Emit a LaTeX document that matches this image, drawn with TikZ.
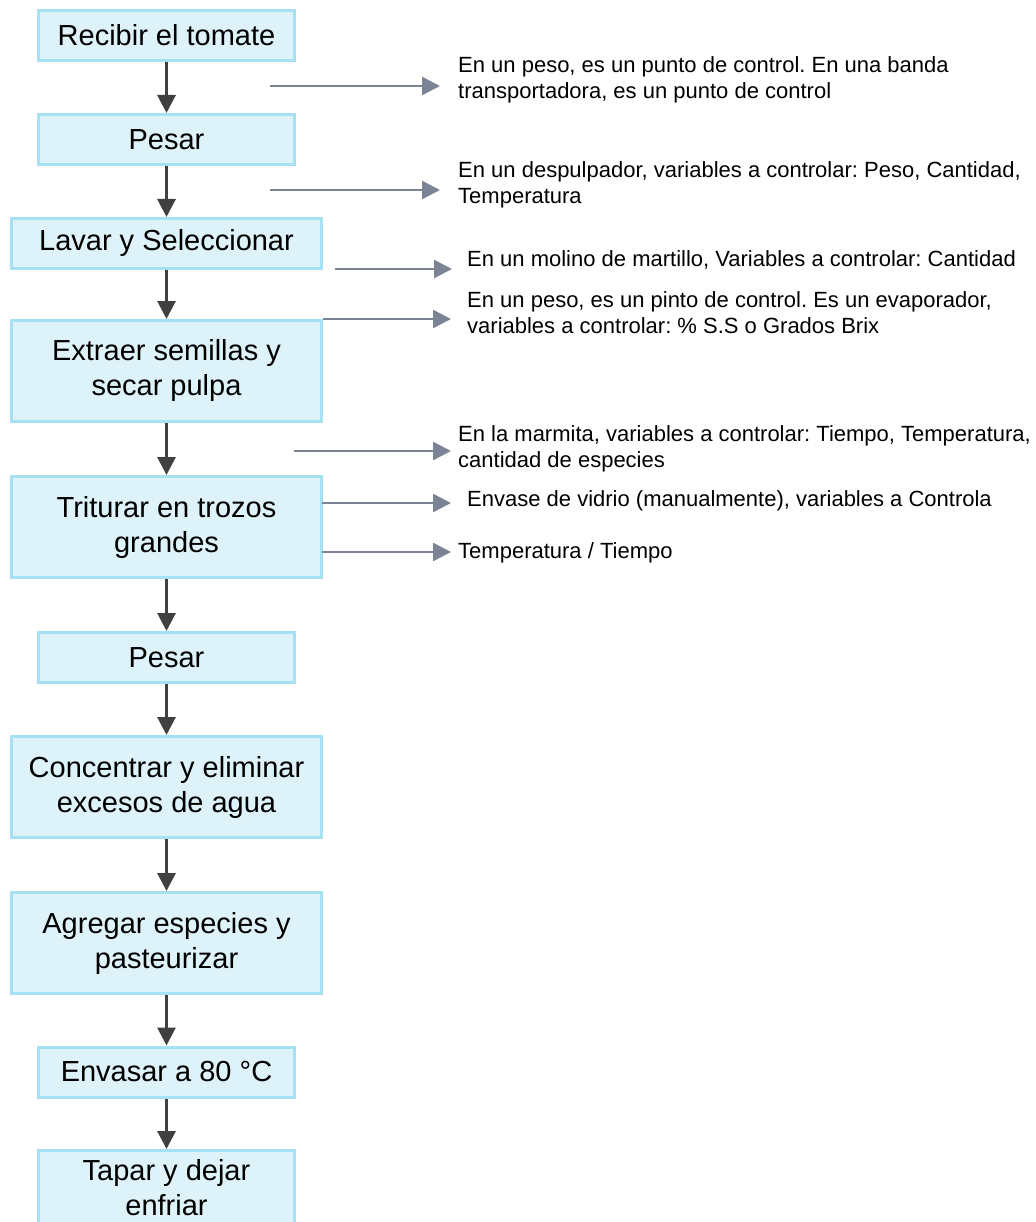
\documentclass[tikz,border=0pt]{standalone}
\usepackage{fontspec}
\setmainfont{Liberation Sans}
\usetikzlibrary{arrows.meta}
\definecolor{boxfill}{HTML}{DDF2F9}
\definecolor{boxline}{HTML}{A6E1F3}
\definecolor{downc}{HTML}{404040}
\definecolor{sidec}{HTML}{7A8494}
\frenchspacing
\begin{document}
\begin{tikzpicture}[x=1pt,y=-1pt,
  stepbox/.style={draw=boxline, fill=boxfill, line width=3pt, inner sep=0pt,
    align=center, minimum width=256pt, minimum height=50pt,
    font=\fontsize{29}{35}\selectfont},
  widebox/.style={stepbox, minimum width=310pt},
  tallbox/.style={minimum height=101pt},
  downarrow/.style={draw=downc, line width=3pt, -{Triangle[length=18pt,width=18pt]}},
  sidearrow/.style={draw=sidec, line width=2.5pt, -{Triangle[length=18pt,width=18pt]}},
  lab/.style={anchor=west, inner ysep=0pt, align=left, font=\fontsize{22}{26}\selectfont}]
\useasboundingbox (0,0) rectangle (1035,1222);
% process boxes
\node[stepbox] (b1) at (166.5,35.5) {Recibir el tomate};
\node[stepbox] (b2) at (166.5,139.5) {Pesar};
\node[widebox] (b3) at (166.5,243.5) {Lavar y Seleccionar};
\node[widebox,tallbox] (b4) at (166.5,371) {Extraer semillas y\\secar pulpa};
\node[widebox,tallbox] (b5) at (166.5,527) {Triturar en trozos\\grandes};
\node[stepbox] (b6) at (166.5,657.5) {Pesar};
\node[widebox,tallbox] (b7) at (166.5,787) {Concentrar y eliminar\\excesos de agua};
\node[widebox,tallbox] (b8) at (166.5,943) {Agregar especies y\\pasteurizar};
\node[stepbox] (b9) at (166.5,1072) {Envasar a 80 °C};
\node[stepbox, minimum height=74pt] (b10) at (166.5,1187.5) {Tapar y dejar\\enfriar};
% flow arrows
\foreach \a/\b in {b1/b2,b2/b3,b3/b4,b4/b5,b5/b6,b6/b7,b7/b8,b8/b9,b9/b10}
  \draw[downarrow] (\a) -- (\b);
% side labels
\node[lab, inner xsep=18pt] (l1) at (440,80) {En un peso, es un punto de control. En una banda\\transportadora, es un punto de control};
\node[lab, inner xsep=18pt] (l2) at (440,184.5) {En un despulpador, variables a controlar: Peso, Cantidad,\\Temperatura};
\node[lab, inner xsep=15pt] (l3) at (452,260) {En un molino de martillo, Variables a controlar: Cantidad};
\node[lab, inner xsep=16pt] (l4) at (451,312.5) {En un peso, es un pinto de control. Es un evaporador,\\variables a controlar: \% S.S o Grados Brix};
\node[lab, inner xsep=7pt] (l5) at (451,448.5) {En la marmita, variables a controlar: Tiempo, Temperatura,\\cantidad de especies};
\node[lab, inner xsep=16pt] (l6) at (451,501) {Envase de vidrio (manualmente), variables a Controla};
\node[lab, inner xsep=7pt] (l7) at (451,553) {Temperatura / Tiempo};
% side arrow tails
\coordinate (t1) at (270,86);
\coordinate (t2) at (270,190);
\coordinate (t3) at (335,269);
\coordinate (t4) at (b4.north east);
\coordinate (t5) at (294,451);
\coordinate (t6) at (322,503);
\coordinate (t7) at (322,552);
\foreach \i in {1,...,7}
  \draw[sidearrow] (t\i) -- (t\i -| l\i.west);
\end{tikzpicture}
\end{document}
